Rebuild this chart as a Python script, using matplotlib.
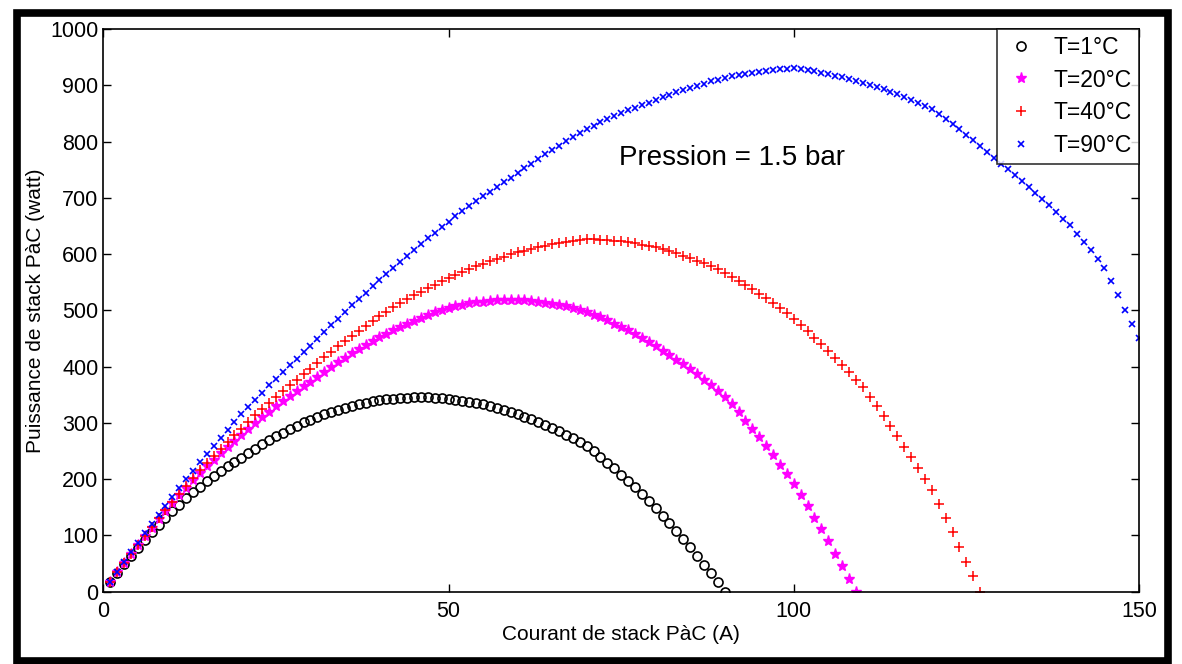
import numpy as np
import matplotlib.pyplot as plt
from matplotlib.patches import Rectangle

plt.rcParams['font.family'] = ['Liberation Sans', 'DejaVu Sans']

# courant de stack (A), pas de 1 A
I_1 = np.arange(1, 91)
I_20 = np.arange(1, 110)
I_40 = np.arange(1, 128)
I_90 = np.arange(1, 151)

# puissance (W)
P_1 = [17.2, 33.6, 49.2, 64.0, 78.0, 92.0, 105.6, 118.6, 131.0, 143.0,
       154.7, 165.8, 176.5, 186.8, 196.5, 205.8, 214.5, 222.8, 230.7, 238.0,
       246.3, 254.3, 262.0, 269.3, 276.3, 282.9, 289.2, 295.1, 300.7, 306.0,
       310.9, 315.5, 319.8, 323.7, 327.3, 330.5, 333.4, 335.9, 338.1, 340.0,
       341.7, 343.1, 344.2, 345.0, 345.4, 345.5, 345.2, 344.6, 343.7, 342.5,
       341.2, 339.6, 337.6, 335.3, 332.8, 329.8, 326.6, 323.1, 319.2, 315.0,
       310.8, 306.3, 301.5, 296.3, 290.9, 285.1, 279.1, 272.7, 266.0, 259.0,
       249.6, 239.8, 229.6, 219.0, 208.1, 196.8, 185.2, 173.2, 160.8, 148.0,
       134.9, 121.4, 107.5, 93.2, 78.6, 63.6, 48.3, 32.6, 16.5, 0.0]

P_20 = [17.5, 34.6, 51.2, 67.3, 83.0, 98.6, 114.0, 129.0, 143.6, 158.0,
        171.7, 185.0, 198.0, 210.6, 222.8, 234.6, 246.0, 257.0, 267.7, 278.0,
        288.9, 299.4, 309.7, 319.7, 329.4, 338.8, 347.9, 356.7, 365.3, 373.5,
        382.4, 391.0, 399.5, 407.7, 415.6, 423.4, 430.9, 438.1, 445.2, 452.0,
        458.4, 464.5, 470.4, 476.1, 481.5, 486.7, 491.6, 496.3, 500.8, 505.0,
        507.7, 510.1, 512.2, 514.1, 515.6, 516.9, 517.8, 518.5, 518.9, 519.0,
        518.2, 517.1, 515.7, 513.9, 511.9, 509.5, 506.9, 503.9, 500.6, 497.0,
        492.4, 487.4, 482.2, 476.6, 470.6, 464.4, 457.8, 450.8, 443.6, 436.0,
        428.5, 420.7, 412.5, 404.0, 395.3, 386.1, 376.7, 367.0, 356.9, 346.5,
        332.8, 318.7, 304.2, 289.3, 274.1, 258.4, 242.4, 226.0, 209.2, 192.0,
        172.4, 152.3, 131.8, 110.9, 89.6, 67.8, 45.7, 23.0, 0.0]

P_40 = [17.5, 34.6, 51.3, 67.6, 83.5, 99.4, 114.9, 130.2, 145.3, 160.0,
        174.4, 188.4, 202.2, 215.6, 228.8, 241.6, 254.2, 266.4, 278.4, 290.0,
        301.8, 313.3, 324.5, 335.5, 346.3, 356.7, 366.9, 376.9, 386.6, 396.0,
        406.3, 416.3, 426.2, 435.9, 445.4, 454.7, 463.8, 472.7, 481.5, 490.0,
        497.7, 505.3, 512.6, 519.6, 526.5, 533.1, 539.6, 545.8, 551.7, 557.5,
        563.0, 568.4, 573.5, 578.3, 583.0, 587.4, 591.7, 595.7, 599.4, 603.0,
        606.3, 609.5, 612.4, 615.0, 617.5, 619.7, 621.8, 623.6, 625.1, 626.5,
        626.2, 625.7, 624.9, 623.8, 622.5, 620.9, 619.1, 617.0, 614.6, 612.0,
        608.7, 605.2, 601.3, 597.2, 592.9, 588.2, 583.3, 578.2, 572.7, 567.0,
        560.1, 552.9, 545.4, 537.7, 529.6, 521.3, 512.6, 503.7, 494.5, 485.0,
        474.2, 463.1, 451.7, 439.9, 427.9, 415.5, 402.9, 389.9, 376.6, 363.0,
        346.3, 329.3, 311.9, 294.1, 276.0, 257.5, 238.7, 219.5, 199.9, 180.0,
        155.6, 130.7, 105.4, 79.7, 53.6, 27.0, 0.0]

P_90 = [17.8, 35.4, 52.8, 70.0, 87.0, 103.7, 120.3, 136.6, 152.6, 168.5,
        184.1, 199.6, 214.8, 229.7, 244.5, 259.0, 273.4, 287.5, 301.3, 315.0,
        328.2, 341.2, 354.0, 366.5, 378.8, 390.8, 402.6, 414.1, 425.4, 436.5,
        448.9, 461.1, 473.2, 485.2, 497.0, 508.7, 520.2, 531.6, 542.9, 554.0,
        565.0, 575.8, 586.5, 597.1, 607.5, 617.8, 627.9, 637.9, 647.8, 657.5,
        666.8, 676.0, 685.0, 693.9, 702.6, 711.2, 719.6, 727.9, 736.0, 744.0,
        752.4, 760.7, 768.9, 777.0, 784.9, 792.7, 800.3, 807.8, 815.2, 822.5,
        828.4, 834.0, 839.6, 844.9, 850.1, 855.2, 860.0, 864.7, 869.2, 873.6,
        878.3, 882.8, 887.2, 891.4, 895.5, 899.4, 903.1, 906.8, 910.2, 913.5,
        915.9, 918.2, 920.2, 922.1, 923.9, 925.4, 926.8, 928.1, 929.1, 930.0,
        928.4, 926.6, 924.5, 922.3, 919.8, 917.1, 914.2, 911.1, 907.8, 904.2,
        900.5, 896.7, 892.6, 888.3, 883.8, 879.0, 874.1, 869.0, 863.6, 858.0,
        849.4, 840.6, 831.5, 822.1, 812.5, 802.6, 792.5, 782.1, 771.4, 760.5,
        750.6, 740.5, 730.2, 719.6, 708.8, 697.7, 686.4, 674.8, 663.0, 651.0,
        636.5, 621.7, 606.6, 591.3, 575.7, 551.3, 526.6, 501.4, 475.9, 450.0]

labels = ['T=1°C', 'T=20°C', 'T=40°C', 'T=90°C']

fig = plt.figure(figsize=(11.82, 6.64), dpi=100)
ax = fig.add_axes([0.0874, 0.1089, 0.8762, 0.8474])

ax.plot(I_1, P_1, 'o', color='k', mfc='none', ms=6.5, mew=1.2, label=labels[0])
ax.plot(I_20, P_20, '*', color='#ff00ff', ms=8, mew=1.0, label=labels[1])
ax.plot(I_40, P_40, '+', color='#ff0000', ms=7.5, mew=1.1, label=labels[2])
ax.plot(I_90, P_90, 'x', color='#0000ff', ms=4.5, mew=1.2, label=labels[3])

ax.set_xlim(0, 150)
ax.set_ylim(0, 1000)
ax.set_xticks([0, 50, 100, 150])
ax.set_yticks(np.arange(0, 1001, 100))
ax.tick_params(direction='in', length=6, width=1, top=True, right=True,
               labelsize=15.5)
ax.tick_params(axis='x', pad=7)
for s in ax.spines.values():
    s.set_linewidth(1.2)

ax.set_xlabel('Courant de stack PàC (A)', fontsize=15, labelpad=2)
ax.set_ylabel('Puissance de stack PàC (watt)', fontsize=15, labelpad=4)
ax.text(91, 770, 'Pression = 1.5 bar', fontsize=20, ha='center', va='center')

leg = ax.legend(loc='upper right', fontsize=16.5, frameon=True, fancybox=False,
                edgecolor='k', borderaxespad=0, handletextpad=0.7,
                labelspacing=0.42, borderpad=0.3, handlelength=1.5)
leg.get_frame().set_linewidth(1.2)

# cadre noir autour de l'image
fig.patches.append(Rectangle((16.5 / 1182, 3.5 / 664), 1151 / 1182, 647.5 / 664,
                             transform=fig.transFigure, fill=False,
                             edgecolor='k', linewidth=5.5))

fig.savefig('out.png', dpi=100)
